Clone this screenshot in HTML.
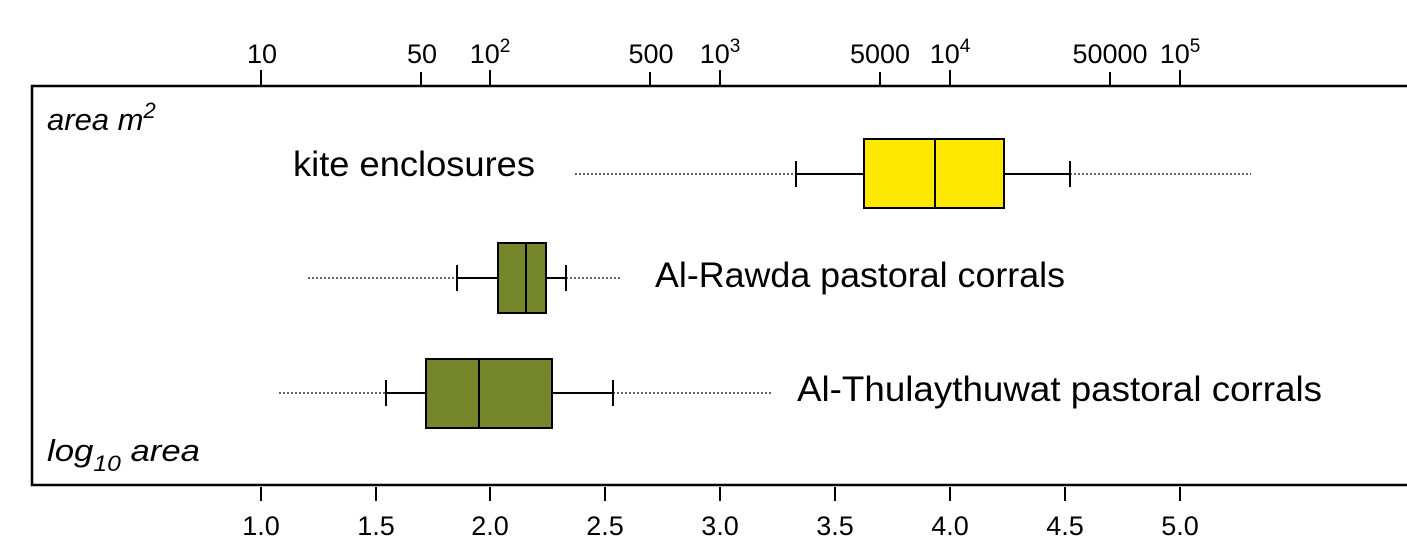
<!DOCTYPE html>
<html><head><style>html,body{margin:0;padding:0;background:#fff}svg{display:block}</style></head><body>
<svg width="1407" height="543" xmlns="http://www.w3.org/2000/svg" font-family="Liberation Sans, sans-serif">
<rect width="1407" height="543" fill="#fff"/>
<path d="M1407 86 H32 V485 H1407" fill="none" stroke="#000" stroke-width="2.5"/>
<g stroke="#000" stroke-width="2">
<line x1="261" y1="70" x2="261" y2="85"/><line x1="421" y1="72" x2="421" y2="85"/><line x1="490" y1="70" x2="490" y2="85"/>
<line x1="650" y1="72" x2="650" y2="85"/><line x1="720" y1="70" x2="720" y2="85"/><line x1="880" y1="72" x2="880" y2="85"/>
<line x1="950" y1="70" x2="950" y2="85"/><line x1="1110" y1="72" x2="1110" y2="85"/><line x1="1180" y1="70" x2="1180" y2="85"/>
<line x1="261" y1="487" x2="261" y2="501"/><line x1="376" y1="487" x2="376" y2="501"/><line x1="490" y1="487" x2="490" y2="501"/>
<line x1="605" y1="487" x2="605" y2="501"/><line x1="720" y1="487" x2="720" y2="501"/><line x1="835" y1="487" x2="835" y2="501"/>
<line x1="950" y1="487" x2="950" y2="501"/><line x1="1065" y1="487" x2="1065" y2="501"/><line x1="1180" y1="487" x2="1180" y2="501"/>
</g>
<g font-size="27" text-anchor="middle" fill="#000">
<text x="262" y="63">10</text><text x="422" y="63">50</text>
<text x="490" y="63">10<tspan font-size="19" dy="-11">2</tspan></text>
<text x="651" y="63">500</text>
<text x="720" y="63">10<tspan font-size="19" dy="-11">3</tspan></text>
<text x="880" y="63">5000</text>
<text x="950" y="63">10<tspan font-size="19" dy="-11">4</tspan></text>
<text x="1110" y="63">50000</text>
<text x="1180" y="63">10<tspan font-size="19" dy="-11">5</tspan></text>
<text x="261" y="535">1.0</text><text x="376" y="535">1.5</text><text x="490" y="535">2.0</text>
<text x="605" y="535">2.5</text><text x="720" y="535">3.0</text><text x="835" y="535">3.5</text>
<text x="950" y="535">4.0</text><text x="1065" y="535">4.5</text><text x="1180" y="535">5.0</text>
</g>
<text x="47" y="130" font-size="31" font-style="italic">area m<tspan font-size="22" dy="-12">2</tspan></text>
<text x="47" y="461" font-size="31" font-style="italic" textLength="153" lengthAdjust="spacingAndGlyphs">log<tspan font-size="22" dy="10">10</tspan><tspan dy="-10"> area</tspan></text>
<g font-size="35" fill="#000">
<text x="293" y="176" textLength="242" lengthAdjust="spacingAndGlyphs">kite enclosures</text>
<text x="655" y="287" textLength="410" lengthAdjust="spacingAndGlyphs">Al-Rawda pastoral corrals</text>
<text x="797" y="401" textLength="525" lengthAdjust="spacingAndGlyphs">Al-Thulaythuwat pastoral corrals</text>
</g>
<g stroke="#666" stroke-width="2" stroke-dasharray="2,2">
<line x1="575" y1="174" x2="796" y2="174"/><line x1="1070" y1="174" x2="1251" y2="174"/>
<line x1="308" y1="278" x2="457" y2="278"/><line x1="566" y1="278" x2="621" y2="278"/>
<line x1="279" y1="393" x2="386" y2="393"/><line x1="613" y1="393" x2="773" y2="393"/>
</g>
<g stroke="#000" stroke-width="2">
<line x1="796" y1="174" x2="864" y2="174"/><line x1="1004" y1="174" x2="1070" y2="174"/>
<line x1="796" y1="161" x2="796" y2="187"/><line x1="1070" y1="161" x2="1070" y2="187"/>
<rect x="864" y="139" width="140" height="69" fill="#ffe800"/><line x1="935" y1="139" x2="935" y2="208"/>
<line x1="457" y1="278" x2="498" y2="278"/><line x1="546" y1="278" x2="566" y2="278"/>
<line x1="457" y1="265" x2="457" y2="291"/><line x1="566" y1="265" x2="566" y2="291"/>
<rect x="498" y="243" width="48" height="70" fill="#76862a"/><line x1="526" y1="243" x2="526" y2="313"/>
<line x1="386" y1="393" x2="426" y2="393"/><line x1="552" y1="393" x2="613" y2="393"/>
<line x1="386" y1="380" x2="386" y2="406"/><line x1="613" y1="380" x2="613" y2="406"/>
<rect x="426" y="359" width="126" height="69" fill="#76862a"/><line x1="479" y1="359" x2="479" y2="428"/>
</g>
</svg>
</body></html>
